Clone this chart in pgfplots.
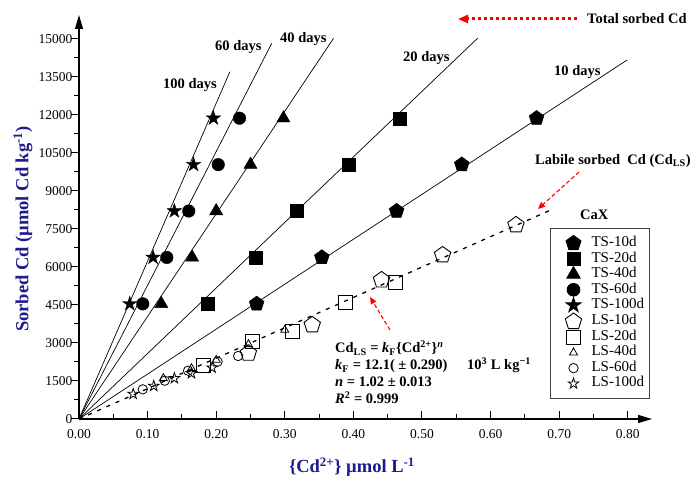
\documentclass[border=0pt]{standalone}
\usepackage{fontspec}
\setmainfont{Liberation Serif}
\usepackage{pgfplots}
\pgfplotsset{compat=1.18}
\usetikzlibrary{arrows.meta}
\definecolor{labblue}{RGB}{28,28,140}

\pgfdeclareplotmark{fstar}{%
 \pgfpathmoveto{\pgfqpoint{0pt}{\pgfplotmarksize}}%
 \pgfpathlineto{\pgfqpoint{-0.2245\pgfplotmarksize}{0.3090\pgfplotmarksize}}%
 \pgfpathlineto{\pgfqpoint{-0.9511\pgfplotmarksize}{0.3090\pgfplotmarksize}}%
 \pgfpathlineto{\pgfqpoint{-0.3633\pgfplotmarksize}{-0.1180\pgfplotmarksize}}%
 \pgfpathlineto{\pgfqpoint{-0.5878\pgfplotmarksize}{-0.8090\pgfplotmarksize}}%
 \pgfpathlineto{\pgfqpoint{0pt}{-0.382\pgfplotmarksize}}%
 \pgfpathlineto{\pgfqpoint{0.5878\pgfplotmarksize}{-0.8090\pgfplotmarksize}}%
 \pgfpathlineto{\pgfqpoint{0.3633\pgfplotmarksize}{-0.1180\pgfplotmarksize}}%
 \pgfpathlineto{\pgfqpoint{0.9511\pgfplotmarksize}{0.3090\pgfplotmarksize}}%
 \pgfpathlineto{\pgfqpoint{0.2245\pgfplotmarksize}{0.3090\pgfplotmarksize}}%
 \pgfpathclose\pgfusepathqfillstroke}
\pgfdeclareplotmark{ostar}{%
 \pgfpathmoveto{\pgfqpoint{0pt}{\pgfplotmarksize}}%
 \pgfpathlineto{\pgfqpoint{-0.2245\pgfplotmarksize}{0.3090\pgfplotmarksize}}%
 \pgfpathlineto{\pgfqpoint{-0.9511\pgfplotmarksize}{0.3090\pgfplotmarksize}}%
 \pgfpathlineto{\pgfqpoint{-0.3633\pgfplotmarksize}{-0.1180\pgfplotmarksize}}%
 \pgfpathlineto{\pgfqpoint{-0.5878\pgfplotmarksize}{-0.8090\pgfplotmarksize}}%
 \pgfpathlineto{\pgfqpoint{0pt}{-0.382\pgfplotmarksize}}%
 \pgfpathlineto{\pgfqpoint{0.5878\pgfplotmarksize}{-0.8090\pgfplotmarksize}}%
 \pgfpathlineto{\pgfqpoint{0.3633\pgfplotmarksize}{-0.1180\pgfplotmarksize}}%
 \pgfpathlineto{\pgfqpoint{0.9511\pgfplotmarksize}{0.3090\pgfplotmarksize}}%
 \pgfpathlineto{\pgfqpoint{0.2245\pgfplotmarksize}{0.3090\pgfplotmarksize}}%
 \pgfpathclose\pgfusepathqstroke}

\begin{document}
\begin{tikzpicture}[x=1pt,y=1pt]
\useasboundingbox (0,0) rectangle (697,485);
\begin{axis}[
  at={(79pt,66pt)}, anchor=south west,
  scale only axis, width=573pt, height=404pt,
  xmin=0, xmax=0.8353, ymin=0, ymax=15930,
  axis lines=left,
  axis line style={line width=1.2pt},
  every outer x axis line/.append style={-{Triangle[length=14pt,width=8pt]}},
  every outer y axis line/.append style={-{Triangle[length=14pt,width=8pt]}},
  xtick={0,0.1,0.2,0.3,0.4,0.5,0.6,0.7,0.8},
  ytick={0,1500,3000,4500,6000,7500,9000,10500,12000,13500,15000},
  scaled y ticks=false, scaled x ticks=false,
  minor x tick num=1, minor y tick num=1,
  tick align=inside,
  major tick length=8pt, minor tick length=5pt,
  tick style={line width=1pt, black},
  major y tick style={xshift=-8pt},
  minor y tick style={xshift=-5pt},
  x tick label style={/pgf/number format/fixed, /pgf/number format/fixed zerofill, /pgf/number format/precision=2, yshift=-7pt},
  y tick label style={xshift=-3pt, /pgf/number format/1000 sep={}},
  /pgf/number format/assume math mode=true,
  tick label style={font=\fontsize{13.5}{15}\selectfont},
  clip=false,
  legend style={at={(axis cs:0.6866,7532)}, anchor=north west,
    draw=black!75, line width=1pt, fill=white,
    font=\fontsize{15}{16}\selectfont, inner xsep=3pt, inner ysep=7pt,
    row sep=0pt,
    nodes={inner ysep=1pt, inner xsep=2pt, text height=10pt, text depth=3.5pt}},
  legend cell align=left,
  legend image code/.code={\path[draw=none,fill=none] (0pt,-4pt) rectangle (36pt,4pt); \draw[#1] plot coordinates {(20pt,0pt)};},
]
% fitted lines
\addplot[black, line width=0.7pt, forget plot] coordinates {(0,0) (0.799,14156)};
\addplot[black, line width=0.7pt, forget plot] coordinates {(0,0) (0.581,15012)};
\addplot[black, line width=0.7pt, forget plot] coordinates {(0,0) (0.371,15010)};
\addplot[black, line width=0.7pt, forget plot] coordinates {(0,0) (0.281,14815)};
\addplot[black, line width=0.7pt, forget plot] coordinates {(0,0) (0.220,13695)};
\addplot[black, line width=1.3pt, dash pattern=on 4pt off 6pt, forget plot] coordinates {(0,0) (0.691,8281)};
% total sorbed
\addplot[only marks, mark=pentagon*, mark size=7.8pt, mark options={fill=black, draw=black}] coordinates {(0.259,4540) (0.354,6370) (0.463,8200) (0.558,10030) (0.667,11860)};
\addlegendentry{TS-10d}
\addplot[only marks, mark=square*, mark size=6.5pt, mark options={fill=black, draw=black}] coordinates {(0.187,4540) (0.258,6370) (0.317,8200) (0.393,10030) (0.468,11860)};
\addlegendentry{TS-20d}
\addplot[only marks, mark=triangle*, mark size=7.6pt, mark options={fill=black, draw=black}] coordinates {(0.120,4540) (0.165,6370) (0.200,8200) (0.250,10030) (0.298,11860)};
\addlegendentry{TS-40d}
\addplot[only marks, mark=*, mark size=6.3pt, mark options={fill=black, draw=black}] coordinates {(0.093,4540) (0.128,6370) (0.160,8200) (0.203,10030) (0.234,11860)};
\addlegendentry{TS-60d}
\addplot[only marks, mark=fstar, mark size=7.6pt, mark options={fill=black, draw=black}] coordinates {(0.074,4540) (0.108,6370) (0.139,8200) (0.167,10030) (0.196,11860)};
\addlegendentry{TS-100d}
% labile sorbed
\addplot[only marks, mark=pentagon, mark size=8.6pt, mark options={draw=black, line width=0.9pt}] coordinates {(0.247,2590) (0.340,3707) (0.441,5481) (0.530,6467) (0.637,7650)};
\addlegendentry{LS-10d}
\addplot[only marks, mark=square, mark size=7pt, mark options={draw=black, line width=0.9pt}] coordinates {(0.182,2129) (0.253,3050) (0.311,3444) (0.388,4587) (0.461,5390)};
\addlegendentry{LS-20d}
\addplot[only marks, mark=triangle, mark size=4.6pt, mark options={draw=black, line width=0.8pt}] coordinates {(0.123,1604) (0.164,1999) (0.200,2326) (0.247,2945) (0.300,3509)};
\addlegendentry{LS-40d}
\addplot[only marks, mark=o, mark size=4.7pt, mark options={draw=black, line width=0.8pt}] coordinates {(0.093,1170) (0.125,1510) (0.159,1905) (0.202,2260) (0.232,2484)};
\addlegendentry{LS-60d}
\addplot[only marks, mark=ostar, mark size=5.6pt, mark options={draw=black, line width=0.8pt}] coordinates {(0.079,986) (0.109,1301) (0.139,1605) (0.164,1800) (0.194,2023)};
\addlegendentry{LS-100d}
\end{axis}
% axis labels
\node[rotate=90, text=labblue, font=\fontsize{18.5}{20}\selectfont\bfseries] at (23,256) {Sorbed Cd (µmol Cd kg\textsuperscript{-1})};
\node[text=labblue, font=\fontsize{18.5}{20}\selectfont\bfseries] at (352,18) {\{Cd\textsuperscript{2+}\} µmol L\textsuperscript{-1}};
% day labels
\begin{scope}[every node/.style={font=\fontsize{14.5}{17}\selectfont\bfseries, inner sep=0pt}]
\node[anchor=west] at (163,400) {100 days};
\node[anchor=west] at (215,438) {60 days};
\node[anchor=west] at (280,446) {40 days};
\node[anchor=west] at (403,427) {20 days};
\node[anchor=west] at (554,413) {10 days};
\node[anchor=west] at (587,466) {Total sorbed Cd};
\node[anchor=west] at (535,324.3) {Labile sorbed\ \ Cd (Cd\textsubscript{LS})};
\node[anchor=west] at (580,270) {CaX};
\node[anchor=base west] at (335,132) {Cd\textsubscript{LS} = \textit{k}\textsubscript{F}\{Cd\textsuperscript{2+}\}\textsuperscript{\textit{n}}};
\node[anchor=base west] at (335,115) {\textit{k}\textsubscript{F} = 12.1( ± 0.290)};
\node[anchor=base west] at (467,115) {10\textsuperscript{3} L kg\textsuperscript{−1}};
\node[anchor=base west] at (335,98) {\textit{n} = 1.02 ± 0.013};
\node[anchor=base west] at (335,81) {\textit{R}\textsuperscript{2} = 0.999};
\end{scope}
% red arrows
\draw[red, line width=3pt, dash pattern=on 3.5pt off 2.5pt, -{Triangle[length=10pt,width=8pt]}] (577,466) -- (458,466);
\draw[red, line width=1.1pt, dash pattern=on 4pt off 2.5pt, -{Triangle[length=7pt,width=6pt]}] (579,313) -- (538,276);
\draw[red, line width=1.1pt, dash pattern=on 4pt off 2.5pt, -{Triangle[length=7pt,width=6pt]}] (390,155) -- (370,188);
\end{tikzpicture}
\end{document}
